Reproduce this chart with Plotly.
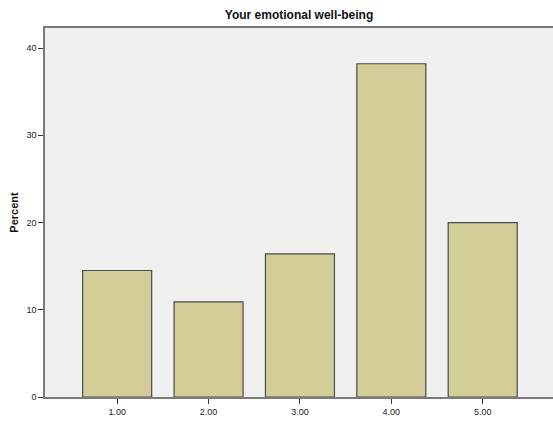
import plotly.graph_objects as go

categories = [1, 2, 3, 4, 5]
tick_labels = ["1.00", "2.00", "3.00", "4.00", "5.00"]
percent = [14.5, 10.9, 16.4, 38.2, 20.0]
y_ticks = [0, 10, 20, 30, 40]

fig = go.Figure()
fig.add_trace(go.Bar(
    x=categories, y=percent, width=0.755,
    marker=dict(color="#d3ce98", line=dict(color="#4a4a4a", width=1.2)),
    hoverinfo="skip",
))

font = "Arial, 'Liberation Sans', sans-serif"
fig.update_layout(
    width=560, height=423,
    margin=dict(l=45, r=0, t=28, b=26),
    paper_bgcolor="white", plot_bgcolor="#f0f0f0",
    showlegend=False,
    font=dict(family=font, size=9, color="#222"),
    title=dict(text="<b>Your emotional well-being</b>", x=(45 + 553) / 2 / 560, xanchor="center",
               y=1 - 15 / 423, yanchor="middle", font=dict(size=12, color="#111", family=font)),
    xaxis=dict(
        range=[0.21, 5.846], tickvals=categories, ticktext=tick_labels,
        showgrid=False, zeroline=False, showline=True, linecolor="#7a7a7a", linewidth=1.5,
        mirror=True, ticks="outside", ticklen=5, tickcolor="#333", tickwidth=1,
        tickfont=dict(size=9, color="#222"),
    ),
    yaxis=dict(
        range=[0, 42.3], tickvals=y_ticks, showgrid=False, zeroline=False,
        showline=True, linecolor="#7a7a7a", linewidth=1.5,
        ticks="outside", ticklen=5, tickcolor="#333", tickwidth=1,
        tickfont=dict(size=9, color="#222"),
        title=dict(text="<b>Percent</b>", font=dict(size=11, color="#111"), standoff=6),
    ),
)

fig.write_html(
    "out.html",
    config={"displayModeBar": False},
    post_script="document.body.style.margin='0';document.body.style.overflow='hidden';",
)
